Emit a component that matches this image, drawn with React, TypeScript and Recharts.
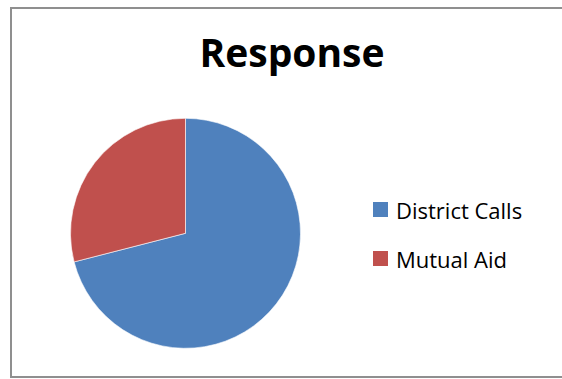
import React from "react";
import { PieChart, Pie, Cell, Legend } from "recharts";

const categories = ["District Calls", "Mutual Aid"];
const values = [71, 29];
const colors = ["#4F81BD", "#C0504D"];
const title = "Response";

const data = categories.map((name, i) => ({ name, value: values[i] }));

const renderLegend = (props: any) => {
  const payload = props.payload || [];
  return (
    <div style={{ fontFamily: "'Open Sans', sans-serif" }}>
      {payload.map((entry: any, i: number) => (
        <div
          key={i}
          style={{ display: "flex", alignItems: "center", height: 49, color: "#000" }}
        >
          <span
            style={{
              display: "inline-block",
              width: 15,
              height: 15,
              background: entry.color,
              marginRight: 8,
            }}
          />
          <span style={{ fontSize: 22, lineHeight: "22px" }}>{entry.value}</span>
        </div>
      ))}
    </div>
  );
};

export default function App() {
  return (
    <div style={{ position: "absolute", left: 0, top: 0, width: 562, height: 379, overflow: "hidden", background: "#fff" }}>
      <div
        style={{
          position: "absolute",
          left: 10,
          top: 7,
          width: 552,
          height: 371,
          borderTop: "2px solid #8f8f8f",
          borderLeft: "2px solid #8f8f8f",
          borderBottom: "2px solid #8f8f8f",
          boxSizing: "border-box",
        }}
      />
      <PieChart
        width={562}
        height={379}
        margin={{ top: 0, right: 0, bottom: 0, left: 0 }}
        style={{ position: "absolute", left: 0, top: 0 }}
      >
        <text
          x={292}
          y={67}
          textAnchor="middle"
          style={{ fontFamily: "'Open Sans', sans-serif", fontWeight: 700, fontSize: 39 }}
          fill="#000"
        >
          {title}
        </text>
        <Pie
          data={data}
          dataKey="value"
          nameKey="name"
          cx={185.5}
          cy={233.3}
          outerRadius={115}
          startAngle={90}
          endAngle={-270}
          stroke="#ffffff"
          strokeWidth={0.6}
          isAnimationActive={false}
          legendType="square"
        >
          {data.map((d, i) => (
            <Cell key={d.name} fill={colors[i]} />
          ))}
        </Pie>
        <Legend
          layout="vertical"
          content={renderLegend}
          wrapperStyle={{ position: "absolute", left: 373, top: 185, width: 185 }}
        />
      </PieChart>
    </div>
  );
}
